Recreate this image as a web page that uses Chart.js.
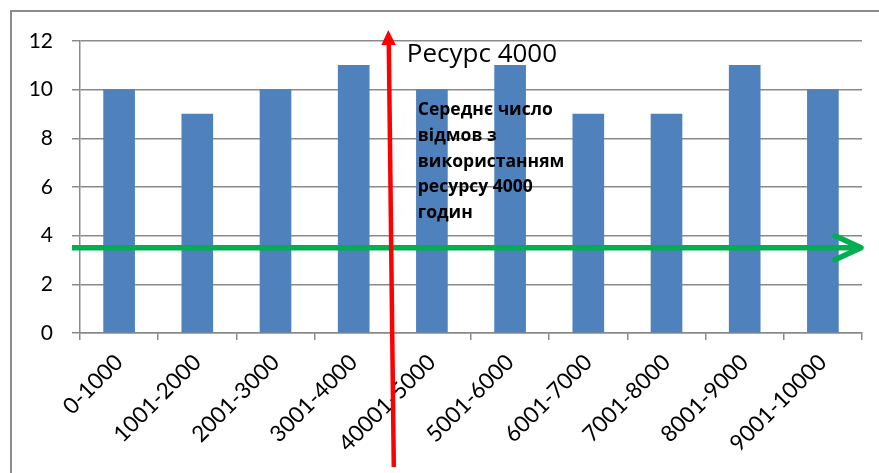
<!DOCTYPE html>
<html>
<head>
<meta charset="utf-8">
<script src="https://cdn.jsdelivr.net/npm/chart.js@4"></script>
<style>
  html, body { margin: 0; padding: 0; background: #fff; }
  #wrap { width: 879px; height: 473px; }
</style>
</head>
<body>
<div id="wrap"><canvas id="chart" width="879" height="473"></canvas></div>
<script>
// Дані діаграми
const categories = ["0-1000", "1001-2000", "2001-3000", "3001-4000", "40001-5000",
                    "5001-6000", "6001-7000", "7001-8000", "8001-9000", "9001-10000"];
const failures = [10, 9, 10, 11, 10, 11, 9, 9, 11, 10];
const yTicks = [0, 2, 4, 6, 8, 10, 12];

// Позначки: ресурс між 4-ю та 5-ю категоріями, середній рівень відмов
const resourceAfterIndex = 3;
const meanLevel = 3.5;
const resourceTitle = "Ресурс 4000";
const noteLines = ["Середнє число", "відмов з", "використанням", "ресурсу 4000", "годин"];

const gridColor = "#8a8a8a";

const overlay = {
  id: "overlay",
  beforeDraw(chart) {
    const ctx = chart.ctx;
    ctx.save();
    ctx.strokeStyle = "#8c8c8c";
    ctx.lineWidth = 2;
    ctx.beginPath();
    ctx.moveTo(11, 473);
    ctx.lineTo(11, 11);
    ctx.lineTo(879, 11);
    ctx.stroke();
    ctx.restore();
  },
  afterDatasetsDraw(chart) {
    const { ctx, scales: { x, y } } = chart;
    const rx = (x.getPixelForValue(resourceAfterIndex) + x.getPixelForValue(resourceAfterIndex + 1)) / 2;
    const gy = y.getPixelForValue(meanLevel);
    ctx.save();

    // зелена стрілка
    ctx.strokeStyle = "#00B050";
    ctx.lineWidth = 5.5;
    ctx.lineCap = "butt";
    ctx.beginPath();
    ctx.moveTo(x.left - 8, gy);
    ctx.lineTo(x.right - 2, gy);
    ctx.stroke();
    ctx.lineCap = "round";
    ctx.lineJoin = "round";
    ctx.beginPath();
    ctx.moveTo(x.right - 27, gy - 12);
    ctx.lineTo(x.right - 1, gy);
    ctx.lineTo(x.right - 27, gy + 12);
    ctx.stroke();

    // підписи
    ctx.fillStyle = "#000";
    ctx.textBaseline = "alphabetic";
    ctx.textAlign = "left";
    ctx.font = "26px 'Open Sans'";
    ctx.fillText(resourceTitle, rx + 14, y.top + 21);
    ctx.font = "bold 17.5px 'Open Sans'";
    noteLines.forEach((t, i) => ctx.fillText(t, rx + 25, 115 + i * 25.8));

    // червона стрілка
    ctx.strokeStyle = "#FF0000";
    ctx.fillStyle = "#FF0000";
    ctx.lineWidth = 4.5;
    ctx.lineCap = "butt";
    ctx.beginPath();
    ctx.moveTo(rx + 1, 467);
    ctx.lineTo(rx - 4, 44);
    ctx.stroke();
    ctx.beginPath();
    ctx.moveTo(rx - 4.5, 30);
    ctx.lineTo(rx - 11.5, 45);
    ctx.lineTo(rx + 3, 45);
    ctx.closePath();
    ctx.fill();
    ctx.restore();
  }
};

const ctx = document.getElementById("chart").getContext("2d");
const chart = new Chart(ctx, {
  type: "bar",
  data: {
    labels: categories,
    datasets: [{ data: failures, backgroundColor: "#4F81BD", borderWidth: 0, barThickness: 31 }]
  },
  options: {
    responsive: false,
    animation: false,
    events: [],
    layout: { padding: { left: 0, right: 17, top: 41, bottom: 0 } },
    plugins: { legend: { display: false }, tooltip: { enabled: false } },
    scales: {
      x: {
        afterFit: s => { s.height = 140; },
        grid: { offset: true, drawOnChartArea: false, drawTicks: true, tickLength: 7, color: gridColor, lineWidth: 1.5 },
        border: { color: gridColor, width: 1.5 },
        ticks: { minRotation: 45, maxRotation: 45, autoSkip: false, padding: 9, color: "#000", font: { family: "Lato", size: 22.5 } }
      },
      y: {
        min: 0, max: 12,
        afterFit: s => { s.width = 80; },
        afterBuildTicks: s => { s.ticks = yTicks.map(v => ({ value: v })); },
        grid: { color: gridColor, lineWidth: 1.5, tickLength: 8 },
        border: { color: gridColor, width: 1.5 },
        ticks: { padding: 19, color: "#000", font: { family: "Lato", size: 21 } }
      }
    }
  },
  plugins: [overlay]
});
</script>
</body>
</html>
